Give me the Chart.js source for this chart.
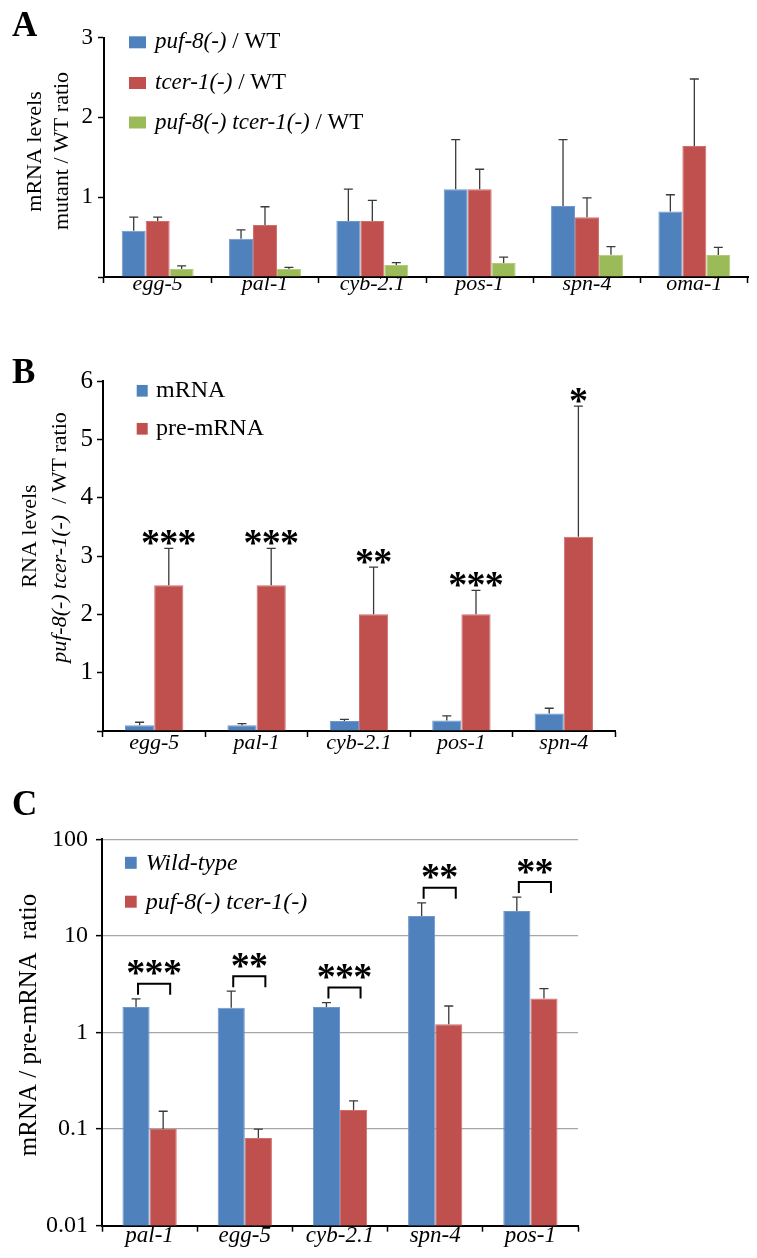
<!DOCTYPE html>
<html>
<head>
<meta charset="utf-8">
<script src="https://cdn.jsdelivr.net/npm/chart.js@4.4.1/dist/chart.umd.min.js"></script>
<style>
  html, body { margin: 0; padding: 0; background: #fff; }
  #wrap { position: relative; width: 757px; height: 1258px; overflow: hidden; }
  canvas { position: absolute; left: 0; }
</style>
</head>
<body>
<div id="wrap">
  <canvas id="chartA" width="757" height="320" style="top:0px"></canvas>
  <canvas id="chartB" width="757" height="480" style="top:300px"></canvas>
  <canvas id="chartC" width="757" height="500" style="top:770px"></canvas>
</div>
<script>
// ---- datos panel A ----
const catsA = ['egg-5', 'pal-1', 'cyb-2.1', 'pos-1', 'spn-4', 'oma-1'];
const puf8A = [0.58, 0.48, 0.70, 1.10, 0.89, 0.82];
const puf8ErrA = [0.17, 0.11, 0.40, 0.62, 0.83, 0.21];
const tcer1A = [0.70, 0.65, 0.70, 1.10, 0.75, 1.64];
const tcer1ErrA = [0.05, 0.23, 0.26, 0.25, 0.24, 0.84];
const doubleA = [0.10, 0.10, 0.15, 0.175, 0.28, 0.275];
const doubleErrA = [0.04, 0.02, 0.03, 0.075, 0.10, 0.095];

// ---- datos panel B ----
const catsB = ['egg-5', 'pal-1', 'cyb-2.1', 'pos-1', 'spn-4'];
const mrnaB = [0.10, 0.10, 0.17, 0.18, 0.30];
const mrnaErrB = [0.05, 0.025, 0.03, 0.08, 0.09];
const preB = [2.5, 2.5, 2.0, 2.0, 3.33];
const preErrB = [0.63, 0.63, 0.81, 0.41, 2.24];
const starsB = ['***', '***', '**', '***', '*'];

// ---- datos panel C ----
const catsC = ['pal-1', 'egg-5', 'cyb-2.1', 'spn-4', 'pos-1'];
const wildC = [1.84, 1.80, 1.84, 16.1, 18.1];
const wildErrC = [0.39, 0.88, 0.20, 5.9, 7.1];
const doubleC = [0.10, 0.081, 0.158, 1.22, 2.25];
const doubleErrC = [0.053, 0.019, 0.038, 0.66, 0.60];
const starsC = ['***', '**', '***', '**', '**'];
const ticksC = [0.01, 0.1, 1, 10, 100];

const BLUE = '#4F81BD', RED = '#C0504D', GREEN = '#9BBB59';
const SERIF = '"Liberation Serif", "Times New Roman", serif';
const Y_W = 90, X_H = 40; // caja de los ejes (las etiquetas se recortan a ella)

function font(size, italic, bold) {
  return (italic ? 'italic ' : '') + (bold ? 'bold ' : '') + size + 'px ' + SERIF;
}

// texto con partes en cursiva y normales
function drawSegs(ctx, segs, size, x, y, center) {
  let w = 0;
  segs.forEach(([t, it]) => { ctx.font = font(size, it); w += ctx.measureText(t).width; });
  let cx = center ? x - w / 2 : x;
  segs.forEach(([t, it]) => {
    ctx.font = font(size, it);
    ctx.fillText(t, cx, y);
    cx += ctx.measureText(t).width;
  });
}

// asteriscos centrados en (cx, cy)
function drawStars(ctx, str, cx, cy) {
  ctx.font = font(100, false, true);
  const m0 = ctx.measureText('*');
  const gw = m0.actualBoundingBoxRight + m0.actualBoundingBoxLeft;
  const size = 100 * 16 / gw;
  ctx.font = font(size, false, true);
  const m = ctx.measureText('*');
  const L = -m.actualBoundingBoxLeft, R = m.actualBoundingBoxRight;
  const yb = cy - (m.actualBoundingBoxDescent - m.actualBoundingBoxAscent) / 2;
  const pitch = 18.3;
  const n = str.length;
  ctx.textAlign = 'left';
  ctx.textBaseline = 'alphabetic';
  for (let i = 0; i < n; i++) {
    const sx = cx + (i - (n - 1) / 2) * pitch;
    ctx.fillText('*', sx - (L + R) / 2, yb);
  }
}

function makeDeco(cfg) {
  return {
    id: 'deco',
    afterDatasetsDraw(chart) {
      const ctx = chart.ctx;
      const yScale = chart.scales.y;
      ctx.save();
      ctx.strokeStyle = '#3a3a3a';
      ctx.lineWidth = 1.3;
      // barras de error (solo hacia arriba)
      cfg.errors.forEach((errs, di) => {
        const meta = chart.getDatasetMeta(di);
        const vals = chart.data.datasets[di].data;
        meta.data.forEach((bar, i) => {
          const yTop = yScale.getPixelForValue(vals[i] + errs[i]);
          ctx.beginPath();
          ctx.moveTo(bar.x, bar.y);
          ctx.lineTo(bar.x, yTop);
          ctx.moveTo(bar.x - 4.5, yTop);
          ctx.lineTo(bar.x + 4.5, yTop);
          ctx.stroke();
        });
      });
      ctx.fillStyle = '#000';
      // asteriscos sobre la barra roja
      if (cfg.starsOver) {
        const meta = chart.getDatasetMeta(1);
        const vals = chart.data.datasets[1].data;
        meta.data.forEach((bar, i) => {
          const yTop = yScale.getPixelForValue(vals[i] + cfg.errors[1][i]);
          drawStars(ctx, cfg.starsOver[i], bar.x, yTop - 11);
        });
      }
      // corchetes + asteriscos
      if (cfg.brackets) {
        const mb = chart.getDatasetMeta(0), mr = chart.getDatasetMeta(1);
        const vals = chart.data.datasets[0].data;
        ctx.strokeStyle = '#000';
        ctx.lineWidth = 2;
        mb.data.forEach((bar, i) => {
          const yTop = yScale.getPixelForValue(vals[i] + cfg.errors[0][i]);
          const left = bar.x + 2, right = mr.data[i].x + 7;
          const bottom = yTop - 4, top = bottom - 11;
          ctx.beginPath();
          ctx.moveTo(left, bottom);
          ctx.lineTo(left, top);
          ctx.lineTo(right, top);
          ctx.lineTo(right, bottom);
          ctx.stroke();
          drawStars(ctx, cfg.brackets[i], (left + right) / 2, top - 16);
        });
      }
      ctx.restore();
    },
    afterDraw(chart) {
      const ctx = chart.ctx;
      ctx.save();
      ctx.fillStyle = '#000';
      // letra del panel
      ctx.font = font(35, false, true);
      ctx.textAlign = 'left';
      ctx.textBaseline = 'alphabetic';
      ctx.fillText(cfg.letter, 12, cfg.letterY);
      // titulos del eje Y
      cfg.titles.forEach(tl => {
        ctx.save();
        ctx.translate(tl.x, tl.y);
        ctx.rotate(-Math.PI / 2);
        ctx.textBaseline = 'middle';
        drawSegs(ctx, tl.segs, tl.size, 0, 0, true);
        ctx.restore();
      });
      // leyenda
      const lg = cfg.legend;
      lg.rows.forEach(r => {
        ctx.fillStyle = r.color;
        ctx.fillRect(lg.x, r.y - lg.h / 2, lg.w, lg.h);
        ctx.fillStyle = '#000';
        ctx.textBaseline = 'alphabetic';
        drawSegs(ctx, r.segs, lg.size, lg.textX, r.y + lg.dy, false);
      });
      ctx.restore();
    }
  };
}

function makeChart(id, g, labels, datasets, yOpts, xTick, cfg) {
  const canvas = document.getElementById(id);
  return new Chart(canvas.getContext('2d'), {
    type: 'bar',
    data: { labels: labels, datasets: datasets },
    options: {
      responsive: false,
      animation: false,
      layout: {
        padding: {
          left: g.left - Y_W,
          right: 757 - g.right,
          top: g.top,
          bottom: g.height - g.bottom - X_H
        }
      },
      plugins: { legend: { display: false }, tooltip: { enabled: false } },
      scales: {
        x: {
          afterFit: s => { s.height = X_H; },
          grid: {
            display: true, offset: true, drawOnChartArea: false,
            drawTicks: true, tickLength: 6, tickColor: '#000', tickWidth: 1.5
          },
          border: { color: '#000', width: 2 },
          ticks: {
            color: '#000', autoSkip: false, maxRotation: 0, padding: xTick.padding,
            font: { family: SERIF, size: xTick.size, style: 'italic', lineHeight: 1 }
          }
        },
        y: yOpts
      }
    },
    plugins: [makeDeco(cfg)]
  });
}

function barSet(label, data, color, border, pct) {
  return {
    label: label, data: data, backgroundColor: color,
    borderColor: border, borderWidth: 1,
    categoryPercentage: pct, barPercentage: 1
  };
}

// ---- Panel A ----
makeChart('chartA', { left: 104, right: 748, top: 37.5, bottom: 277, height: 320 }, catsA, [
  barSet('puf-8(-) / WT', puf8A, BLUE, '#6f98cc', 0.67),
  barSet('tcer-1(-) / WT', tcer1A, RED, '#cf6f6c', 0.67),
  barSet('puf-8(-) tcer-1(-) / WT', doubleA, GREEN, '#b0cc7a', 0.67)
], {
  min: 0, max: 3,
  afterFit: s => { s.width = Y_W; },
  grid: { drawOnChartArea: false, tickLength: 6, tickColor: '#000', tickWidth: 1.5 },
  border: { color: '#000', width: 2 },
  ticks: {
    stepSize: 1, padding: 5, color: '#000',
    font: { family: SERIF, size: 23 },
    callback: v => v === 0 ? '' : v
  }
}, { size: 22, padding: -10 }, {
  letter: 'A', letterY: 36,
  errors: [puf8ErrA, tcer1ErrA, doubleErrA],
  titles: [
    { x: 35, y: 151.5, size: 22, segs: [['mRNA levels', false]] },
    { x: 62, y: 151, size: 22, segs: [['mutant / WT ratio', false]] }
  ],
  legend: {
    x: 129, w: 17, h: 12, textX: 155, size: 23, dy: 6,
    rows: [
      { color: BLUE, y: 42.3, segs: [['puf-8(-)', true], [' / WT', false]] },
      { color: RED, y: 83, segs: [['tcer-1(-)', true], [' / WT', false]] },
      { color: GREEN, y: 122.5, segs: [['puf-8(-) tcer-1(-)', true], [' / WT', false]] }
    ]
  }
});

// ---- Panel B ----
makeChart('chartB', { left: 103, right: 615, top: 81, bottom: 431, height: 480 }, catsB, [
  barSet('mRNA', mrnaB, BLUE, '#6f98cc', 0.57),
  barSet('pre-mRNA', preB, RED, '#cf6f6c', 0.57)
], {
  min: 0, max: 6,
  afterFit: s => { s.width = Y_W; },
  grid: { drawOnChartArea: false, tickLength: 6, tickColor: '#000', tickWidth: 1.5 },
  border: { color: '#000', width: 2 },
  ticks: {
    stepSize: 1, padding: 4, color: '#000',
    font: { family: SERIF, size: 25 },
    callback: v => v === 0 ? '' : v
  }
}, { size: 22, padding: -5 }, {
  letter: 'B', letterY: 83,
  errors: [mrnaErrB, preErrB],
  starsOver: starsB,
  titles: [
    { x: 30, y: 236, size: 22, segs: [['RNA levels', false]] },
    { x: 60, y: 237.5, size: 22, segs: [['puf-8(-) tcer-1(-)', true], ['  / WT ratio', false]] }
  ],
  legend: {
    x: 136.7, w: 11, h: 11.7, textX: 156, size: 24, dy: 6,
    rows: [
      { color: BLUE, y: 90.8, segs: [['mRNA', false]] },
      { color: RED, y: 128.8, segs: [['pre-mRNA', false]] }
    ]
  }
});

// ---- Panel C ----
makeChart('chartC', { left: 102, right: 578, top: 69.3, bottom: 455.7, height: 500 }, catsC, [
  barSet('Wild-type', wildC, BLUE, '#6f98cc', 0.57),
  barSet('puf-8(-) tcer-1(-)', doubleC, RED, '#cf6f6c', 0.57)
], {
  type: 'logarithmic', min: 0.01, max: 100,
  afterFit: s => { s.width = Y_W; },
  afterBuildTicks: s => { s.ticks = ticksC.map(v => ({ value: v })); },
  grid: {
    drawOnChartArea: true, tickLength: 6, tickColor: '#000', tickWidth: 1.5,
    lineWidth: 1.3,
    color: c => (c.tick && c.tick.value === 0.01) ? 'rgba(0,0,0,0)' : '#a6a6a6'
  },
  border: { color: '#000', width: 2 },
  ticks: {
    padding: 8, color: '#000',
    font: { family: SERIF, size: 24 },
    callback: v => String(v)
  }
}, { size: 23, padding: -7 }, {
  letter: 'C', letterY: 45,
  errors: [wildErrC, doubleErrC],
  brackets: starsC,
  titles: [
    { x: 29.3, y: 255, size: 25, segs: [['mRNA / pre-mRNA  ratio', false]] }
  ],
  legend: {
    x: 125, w: 11.7, h: 12, textX: 145.7, size: 24, dy: 7,
    rows: [
      { color: BLUE, y: 92.8, segs: [['Wild-type', true]] },
      { color: RED, y: 131.7, segs: [['puf-8(-) tcer-1(-)', true]] }
    ]
  }
});
</script>
</body>
</html>
